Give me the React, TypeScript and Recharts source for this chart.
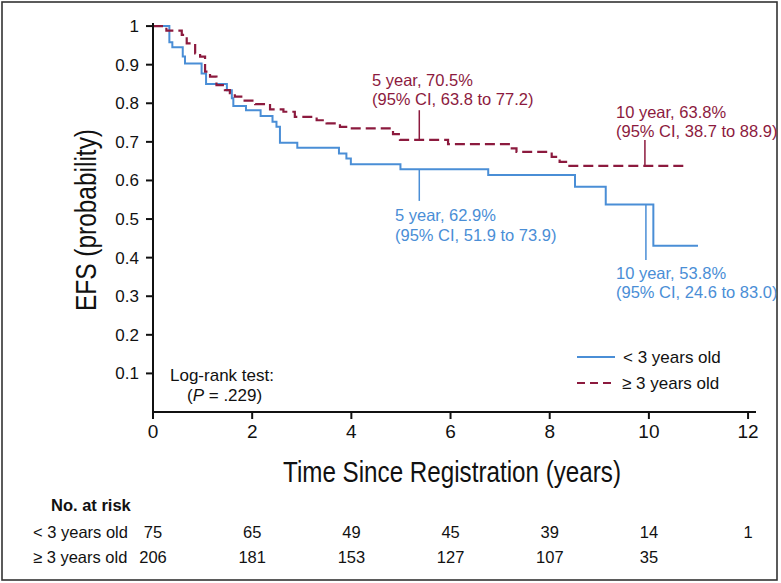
import { LineChart, Line, XAxis, YAxis, ReferenceLine } from 'recharts'

// < 3 years old (solid blue)
const youngTimes = [0, 0.33, 0.39, 0.6, 0.645, 0.98, 1.07, 1.49, 1.59, 1.62, 1.875, 2.17, 2.41, 2.49, 2.56, 2.91, 3.75, 3.9, 3.99, 4.99, 6.76, 8.51, 9.13, 10.09, 10.99]
const youngSurv = [1, 0.958, 0.945, 0.921, 0.903, 0.877, 0.85, 0.834, 0.813, 0.793, 0.782, 0.767, 0.752, 0.739, 0.698, 0.685, 0.67, 0.657, 0.642, 0.629, 0.614, 0.584, 0.538, 0.431, 0.431]

// >= 3 years old (dashed red)
const olderTimes = [0, 0.27, 0.58, 0.68, 0.85, 0.95, 1.05, 1.15, 1.28, 1.45, 1.55, 1.65, 1.82, 2.06, 2.36, 2.63, 2.86, 3.3, 3.5, 3.77, 3.97, 4.84, 4.98, 5.95, 7.2, 7.33, 8.04, 8.2, 8.37, 10.73]
const olderSurv = [1, 0.988, 0.977, 0.955, 0.929, 0.921, 0.882, 0.869, 0.847, 0.834, 0.826, 0.817, 0.807, 0.798, 0.784, 0.778, 0.765, 0.756, 0.748, 0.739, 0.735, 0.72, 0.705, 0.694, 0.683, 0.674, 0.661, 0.648, 0.638, 0.638]

const xTicks = [0, 2, 4, 6, 8, 10, 12]
const yTicks = [0.1, 0.2, 0.3, 0.4, 0.5, 0.6, 0.7, 0.8, 0.9, 1]

const riskYoung = [75, 65, 49, 45, 39, 14, 1]
const riskOlder = [206, 181, 153, 127, 107, 35]

// annotation pointer segments: [time, from, to]
const youngMarks = [
  [5.37, 0.629, 0.547],
  [9.94, 0.538, 0.394],
]
const olderMarks = [
  [5.37, 0.705, 0.782],
  [9.92, 0.638, 0.705],
]

const BLUE = '#4a8ed6'
const RED = '#8c1a3e'
const FONT = '"Liberation Sans", Arial, sans-serif'

const toRows = (ts: number[], vs: number[]) => ts.map((t, i) => ({ t, v: vs[i] }))

// pixel x of a year value, used for the risk table under the axis
const px = (t: number) => 153 + t * 49.6

export default function App() {
  const young = toRows(youngTimes, youngSurv)
  const older = toRows(olderTimes, olderSurv)

  return (
    <div style={{ position: 'absolute', left: 0, top: 0, width: 781, height: 583, background: '#fff', fontFamily: FONT }}>
      <LineChart width={781} height={583} margin={{ top: 23, right: 25, bottom: 0, left: 0 }}>
        <XAxis
          type="number"
          dataKey="t"
          domain={[0, 12.16]}
          ticks={xTicks}
          height={171}
          stroke="#111"
          strokeWidth={2}
          tickSize={7}
          tickMargin={6}
          tick={{ fill: '#111', fontSize: 19, fontFamily: FONT }}
          allowDataOverflow
        />
        <YAxis
          type="number"
          domain={[0, 1.008]}
          ticks={yTicks}
          width={153}
          stroke="#111"
          strokeWidth={2}
          tickSize={7}
          tickMargin={7}
          tick={{ fill: '#111', fontSize: 17, fontFamily: FONT }}
          allowDataOverflow
        />
        {youngMarks.map(([t, a, b], i) => (
          <ReferenceLine key={'y' + i} segment={[{ x: t, y: a }, { x: t, y: b }]} stroke={BLUE} strokeWidth={1.5} />
        ))}
        {olderMarks.map(([t, a, b], i) => (
          <ReferenceLine key={'o' + i} segment={[{ x: t, y: a }, { x: t, y: b }]} stroke={RED} strokeWidth={1.5} />
        ))}
        <Line data={young} dataKey="v" type="stepAfter" stroke={BLUE} strokeWidth={2} dot={false} isAnimationActive={false} />
        <Line data={older} dataKey="v" type="stepAfter" stroke={RED} strokeWidth={2.2} strokeDasharray="10 5" dot={false} isAnimationActive={false} />
      </LineChart>

      <svg width={781} height={583} style={{ position: 'absolute', left: 0, top: 0, pointerEvents: 'none' }} fontFamily={FONT}>
        <rect x={2} y={2} width={775} height={578} fill="none" stroke="#333" strokeWidth={1.6} />

        <text
          x={86}
          y={220}
          transform="rotate(-90 86 220)"
          textAnchor="middle"
          dominantBaseline="central"
          fontSize={29}
          textLength={182}
          lengthAdjust="spacingAndGlyphs"
          fill="#111"
        >
          EFS (probability)
        </text>
        <text
          x={452}
          y={472}
          textAnchor="middle"
          dominantBaseline="central"
          fontSize={29}
          textLength={338}
          lengthAdjust="spacingAndGlyphs"
          fill="#111"
        >
          Time Since Registration (years)
        </text>

        <g fontSize={16.5} fill={RED} dominantBaseline="central">
          <text x={372} y={80}>5 year, 70.5%</text>
          <text x={372} y={99}>(95% CI, 63.8 to 77.2)</text>
          <text x={616} y={112}>10 year, 63.8%</text>
          <text x={616} y={131}>(95% CI, 38.7 to 88.9)</text>
        </g>
        <g fontSize={16.5} fill={BLUE} dominantBaseline="central">
          <text x={395} y={215}>5 year, 62.9%</text>
          <text x={395} y={235}>(95% CI, 51.9 to 73.9)</text>
          <text x={616} y={273}>10 year, 53.8%</text>
          <text x={616} y={292}>(95% CI, 24.6 to 83.0)</text>
        </g>

        <g fontSize={17} fill="#111" dominantBaseline="central">
          <text x={170} y={375}>Log-rank test:</text>
          <text x={187} y={395}>
            (<tspan fontStyle="italic">P</tspan> = .229)
          </text>
        </g>

        <line x1={577} x2={615} y1={357} y2={357} stroke={BLUE} strokeWidth={2} />
        <line x1={577} x2={615} y1={383} y2={383} stroke={RED} strokeWidth={2.2} strokeDasharray="8 5" />
        <g fontSize={17} fill="#111" dominantBaseline="central">
          <text x={623} y={357}>{'< 3 years old'}</text>
          <text x={622} y={383}>≥ 3 years old</text>
        </g>

        <g fontSize={16.5} fill="#111" dominantBaseline="central">
          <text x={51} y={505} fontWeight="bold">No. at risk</text>
          <text x={33} y={532}>{'< 3 years old'}</text>
          <text x={33} y={557}>≥ 3 years old</text>
          {riskYoung.map((n, i) => (
            <text key={'ry' + i} x={px(xTicks[i])} y={532} textAnchor="middle">{n}</text>
          ))}
          {riskOlder.map((n, i) => (
            <text key={'ro' + i} x={px(xTicks[i])} y={557} textAnchor="middle">{n}</text>
          ))}
        </g>
      </svg>
    </div>
  )
}
